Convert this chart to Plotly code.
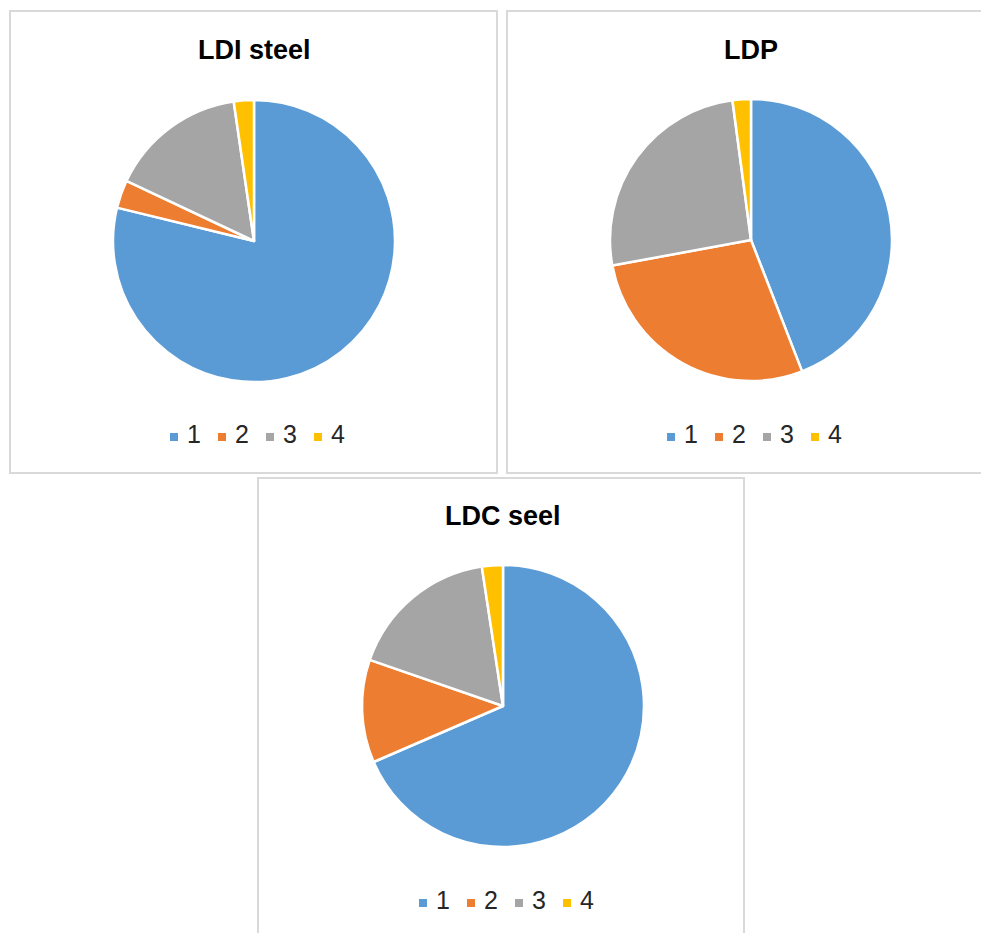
import plotly.graph_objects as go

W, H = 981, 933

categories = ["1", "2", "3", "4"]
titles = ["LDI steel", "LDP", "LDC seel"]
ldi_steel = [78.8, 3.2, 15.7, 2.3]
ldp = [44.1, 28.0, 25.8, 2.1]
ldc_seel = [68.5, 11.8, 17.3, 2.4]
series = [ldi_steel, ldp, ldc_seel]

colors = ["#5B9BD5", "#ED7D31", "#A5A5A5", "#FFC000"]

# layout in pixels (from top-left of the page)
panels = [(10, 11, 497, 473), (507, 11, 1000, 473), (258, 478, 744, 1000)]
centers = [(254, 241), (751, 240), (503, 706)]
radius = 141
title_y = [50, 50, 516]
legend_y = [437, 437, 903]
legend_step = 48      # px between legend entries
legend_first = -80    # first legend square relative to pie centre


def px(x):
    return x / W


def py(y):
    return 1 - y / H


fig = go.Figure()
for i, vals in enumerate(series):
    cx, cy = centers[i]
    fig.add_trace(go.Pie(
        labels=categories,
        values=vals,
        sort=False,
        direction="clockwise",
        rotation=0,
        textinfo="none",
        hoverinfo="label+value",
        marker=dict(colors=colors, line=dict(color="white", width=2.5)),
        domain=dict(x=[px(cx - radius), px(cx + radius)],
                    y=[py(cy + radius), py(cy - radius)]),
        showlegend=False,
    ))

# legends: one row of coloured squares + labels under each pie
axes_layout = {}
n = len(categories)
for i in range(3):
    cx, cy = centers[i]
    k = "" if i == 0 else str(i + 1)
    left = cx + legend_first - legend_step / 2
    right = left + legend_step * n
    fig.add_trace(go.Scatter(
        x=list(range(n)), y=[0] * n,
        mode="markers+text",
        text=[" " + c for c in categories],
        textposition="middle right",
        textfont=dict(family="Liberation Sans, Arial", size=25, color="#262626"),
        marker=dict(symbol="square", size=8, color=colors, line=dict(width=0)),
        hoverinfo="skip", showlegend=False,
        xaxis="x" + k, yaxis="y" + k, cliponaxis=False,
    ))
    axes_layout["xaxis" + k] = dict(domain=[px(left), px(right)], range=[-0.5, n - 0.5],
                                    visible=False, fixedrange=True,
                                    anchor="y" + k)
    axes_layout["yaxis" + k] = dict(domain=[py(legend_y[i] + 15), py(legend_y[i] - 15)],
                                    range=[-1, 1], visible=False, fixedrange=True,
                                    anchor="x" + k)

shapes = []
for (x0, y0, x1, y1) in panels:
    shapes.append(dict(type="rect", xref="paper", yref="paper",
                       x0=px(x0), x1=px(x1), y0=py(y1), y1=py(y0),
                       line=dict(color="#D9D9D9", width=2),
                       fillcolor="rgba(0,0,0,0)", layer="below"))

annotations = []
for i, t in enumerate(titles):
    annotations.append(dict(text="<b>%s</b>" % t, x=px(centers[i][0]), y=py(title_y[i]),
                            xref="paper", yref="paper", showarrow=False,
                            xanchor="center", yanchor="middle",
                            font=dict(family="Liberation Sans, Arial", size=27, color="#000000")))

fig.update_layout(
    width=W, height=H,
    margin=dict(l=0, r=0, t=0, b=0),
    paper_bgcolor="white",
    plot_bgcolor="rgba(0,0,0,0)",
    shapes=shapes,
    annotations=annotations,
    showlegend=False,
    **axes_layout,
)

fig.write_html("out.html",
               config={"displayModeBar": False},
               post_script="document.body.style.margin='0';document.body.style.overflow='hidden';")
